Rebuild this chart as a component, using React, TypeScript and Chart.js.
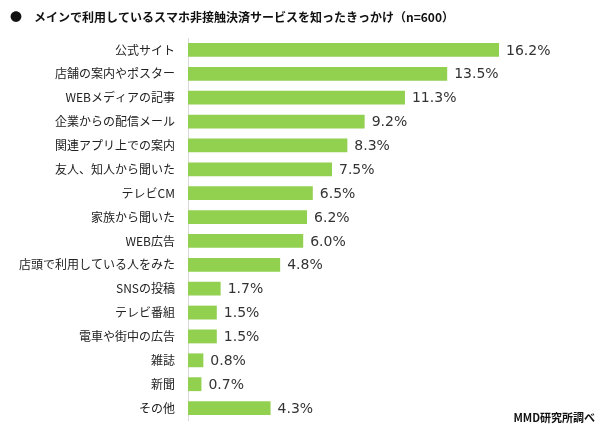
import React, { useEffect, useRef } from "react";
import { Chart, registerables } from "chart.js";

Chart.register(...registerables);

const titleText = "●\u3000メインで利用しているスマホ非接触決済サービスを知ったきっかけ（n=600）";
const sourceText = "MMD研究所調べ";
const categories = [
  "公式サイト",
  "店舗の案内やポスター",
  "WEBメディアの記事",
  "企業からの配信メール",
  "関連アプリ上での案内",
  "友人、知人から聞いた",
  "テレビCM",
  "家族から聞いた",
  "WEB広告",
  "店頭で利用している人をみた",
  "SNSの投稿",
  "テレビ番組",
  "電車や街中の広告",
  "雑誌",
  "新聞",
  "その他",
];
const values = [16.2, 13.5, 11.3, 9.2, 8.3, 7.5, 6.5, 6.2, 6.0, 4.8, 1.7, 1.5, 1.5, 0.8, 0.7, 4.3];

const FONT = "'Noto Sans CJK JP', 'Noto Sans', sans-serif";

const valueLabels = {
  id: "valueLabels",
  afterDatasetsDraw(chart: any) {
    const ctx = chart.ctx;
    const meta = chart.getDatasetMeta(0);
    ctx.save();
    ctx.font = `14px 'DejaVu Sans', sans-serif`;
    ctx.fillStyle = "#333333";
    ctx.textAlign = "left";
    ctx.textBaseline = "middle";
    meta.data.forEach((bar: any, i: number) => {
      ctx.fillText(values[i].toFixed(1) + "%", bar.x + 7, bar.y + 1);
    });
    ctx.restore();
  },
};

const extraText = {
  id: "extraText",
  afterDraw(chart: any) {
    const ctx = chart.ctx;
    ctx.save();
    ctx.fillStyle = "#111111";
    ctx.font = `bold 12px ${FONT}`;
    ctx.textAlign = "left";
    ctx.textBaseline = "middle";
    ctx.fillText(titleText, 10, 17);
    ctx.font = `bold 11px ${FONT}`;
    ctx.textAlign = "right";
    ctx.fillText(sourceText, 595, 418);
    ctx.restore();
  },
};

export default function App() {
  const ref = useRef<HTMLCanvasElement>(null);
  useEffect(() => {
    if (!ref.current) return;
    const chart = new Chart(ref.current, {
      type: "bar",
      data: {
        labels: categories,
        datasets: [
          {
            data: values,
            backgroundColor: "#92D050",
            barPercentage: 0.58,
            categoryPercentage: 1,
          },
        ],
      },
      options: {
        indexAxis: "y",
        animation: false,
        responsive: false,
        maintainAspectRatio: false,
        layout: { padding: { top: 38, bottom: 11, left: 0, right: 32 } },
        plugins: {
          legend: { display: false },
          title: { display: false },
          tooltip: { enabled: false },
        },
        scales: {
          x: { display: false, min: 0, max: 20 },
          y: {
            afterFit: (s: any) => {
              s.width = 188;
              s.paddingTop = 0;
              s.paddingBottom = 0;
            },
            grid: { display: true, color: "rgba(0,0,0,0)", drawTicks: false },
            border: { display: true, color: "#d9d9d9", width: 1 },
            ticks: {
              padding: 13,
              color: "#222222",
              font: { family: FONT, size: 12 },
            },
          },
        },
      },
      plugins: [valueLabels, extraText],
    });
    return () => chart.destroy();
  }, []);
  return (
    <div style={{ position: "fixed", left: 0, top: 0, width: 604, height: 431, background: "#fff" }}>
      <canvas ref={ref} width={604} height={431} style={{ width: 604, height: 431 }} />
    </div>
  );
}
